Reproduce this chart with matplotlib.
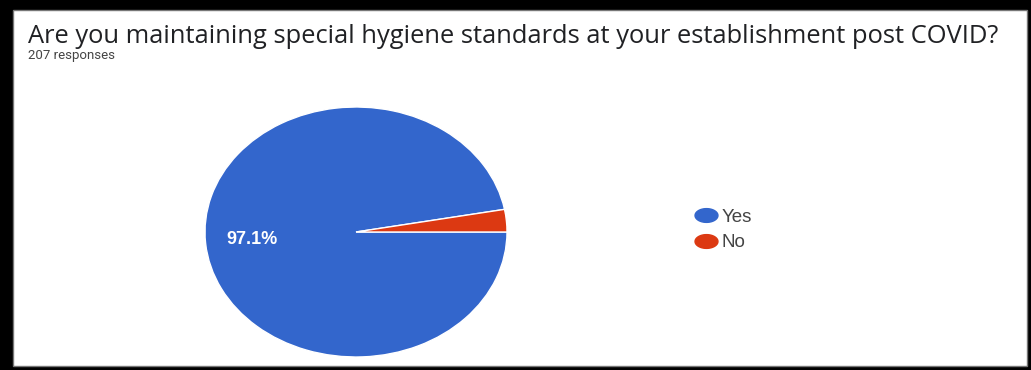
import numpy as np
import matplotlib
matplotlib.use('Agg')
import matplotlib.pyplot as plt
from matplotlib.patches import Rectangle
from matplotlib.lines import Line2D
from matplotlib.path import Path

title = 'Are you maintaining special hygiene standards at your establishment post COVID?'
subtitle = '207 responses'
answers = ['Yes', 'No']
counts = [201, 6]
colors = ['#3366CC', '#DC3912']

W, H = 1031, 370
fig = plt.figure(figsize=(W / 100, H / 100), dpi=100, facecolor='black')

# white card inside the black frame
fig.patches.append(Rectangle((13 / W, 4 / H), (1027 - 13) / W, (360 - 4) / H,
                             transform=fig.transFigure, facecolor='white',
                             edgecolor='#777777', linewidth=1.0, zorder=-5))

fig.text(28 / W, 1 - 43 / H, title, fontsize=18.4, color='#202124',
         family='Open Sans', va='baseline', ha='left')
fig.text(28 / W, 1 - 56 / H, subtitle, fontsize=9.5, color='#444444',
         family='Roboto', va='center', ha='left')

# pie is stretched horizontally, so give it a wider-than-tall axes
cx, cy, rx, ry = 356, 232, 151, 125
ax = fig.add_axes([(cx - rx) / W, (H - cy - ry) / H, 2 * rx / W, 2 * ry / H])
ax.set_facecolor('none')
ax.set_zorder(2)


def pct_label(p):
    return f'{p:.1f}%' if p > 5 else ''


wedges, texts, autotexts = ax.pie(counts, colors=colors, startangle=0,
                                  counterclock=False, autopct=pct_label,
                                  pctdistance=0.69,
                                  wedgeprops=dict(edgecolor='white', linewidth=1))
for t in autotexts:
    t.set_color('white')
    t.set_fontsize(13)
    t.set_fontweight('bold')
    t.set_family('Liberation Sans')
ax.set_aspect('auto')
ax.set_xlim(-1, 1)
ax.set_ylim(-1, 1)
ax.axis('off')

# flattened dot to match the stretched pie
th = np.linspace(0, 2 * np.pi, 60)
oval = Path(np.column_stack([np.cos(th), 0.6 * np.sin(th)]), closed=True)
handles = [Line2D([], [], marker=oval, linestyle='', markersize=16.5,
                  markerfacecolor=c, markeredgecolor=c) for c in colors]
fig.legend(handles, answers, loc='center left',
           bbox_to_anchor=(686 / W, 1 - 230 / H), frameon=False,
           prop={'family': 'Liberation Sans', 'size': 13.5},
           labelcolor='#444444', handletextpad=0.2, labelspacing=0.45,
           handlelength=1.3, borderaxespad=0)

fig.savefig('out.png', dpi=100, facecolor='black')
